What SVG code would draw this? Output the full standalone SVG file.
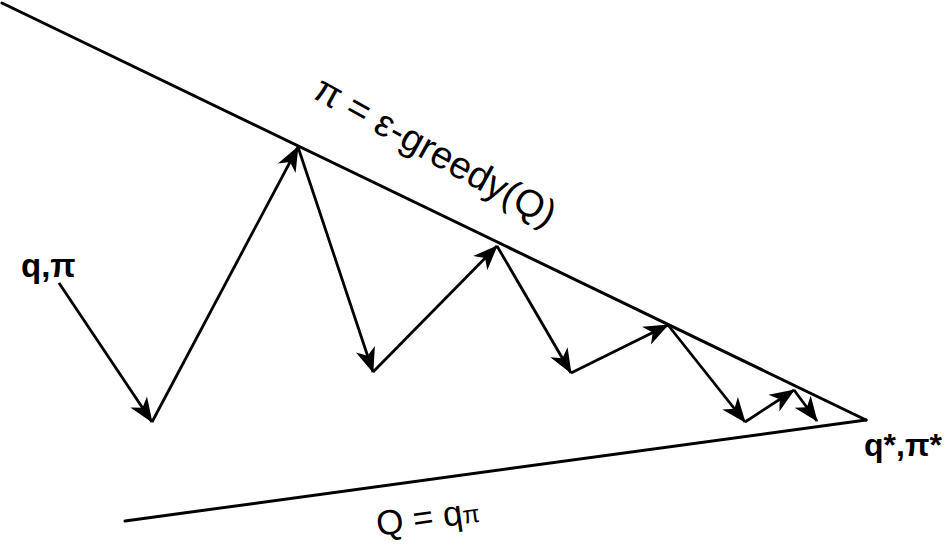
<svg xmlns="http://www.w3.org/2000/svg" width="947" height="546" viewBox="0 0 947 546">
<defs>
<style>
.bound{stroke:#000;stroke-width:3;fill:none;stroke-linecap:round}
.step{stroke:#000;stroke-width:2.8;fill:none;marker-end:url(#ah)}
.lbl{font-family:"Liberation Sans",Arial,sans-serif;fill:#000}
.bold{font-weight:bold}
</style>
<marker id="ah" markerUnits="userSpaceOnUse" markerWidth="26" markerHeight="22" viewBox="0 0 26 22" refX="24" refY="11" orient="auto">
<path d="M0,1 L25,11 L0,21 L7,11 z" fill="#000"/>
</marker>
</defs>
<rect width="947" height="546" fill="#fff"/>
<g id="bounds">
<line class="bound" x1="2" y1="3" x2="866" y2="420"/>
<line class="bound" x1="125" y1="521" x2="866" y2="420"/>
</g>
<g id="connectors">
<line class="step" x1="59" y1="283" x2="152" y2="422"/>
<line class="step" x1="152" y1="422" x2="298" y2="147"/>
<line class="step" x1="298" y1="147" x2="373" y2="372"/>
<line class="step" x1="373" y1="372" x2="497" y2="246"/>
<line class="step" x1="497" y1="246" x2="571" y2="373"/>
<line class="step" x1="571" y1="373" x2="668" y2="325"/>
<line class="step" x1="668" y1="325" x2="745" y2="422"/>
<line class="step" x1="745" y1="422" x2="794" y2="390"/>
<line class="step" x1="794" y1="390" x2="817" y2="421"/>
</g>
<g id="start">
<text class="lbl bold" x="21" y="277" font-size="33">q,π</text>
</g>
<g id="end">
<text class="lbl bold" x="864" y="456" font-size="32">q*,π*</text>
</g>
<g id="policy">
<text class="lbl" transform="translate(311,97) rotate(29)" font-size="38">π = ε-greedy(Q)</text>
</g>
<g id="value">
<text class="lbl" transform="translate(378,536) rotate(-8)" font-size="35">Q = q<tspan font-size="25">π</tspan></text>
</g>
</svg>
